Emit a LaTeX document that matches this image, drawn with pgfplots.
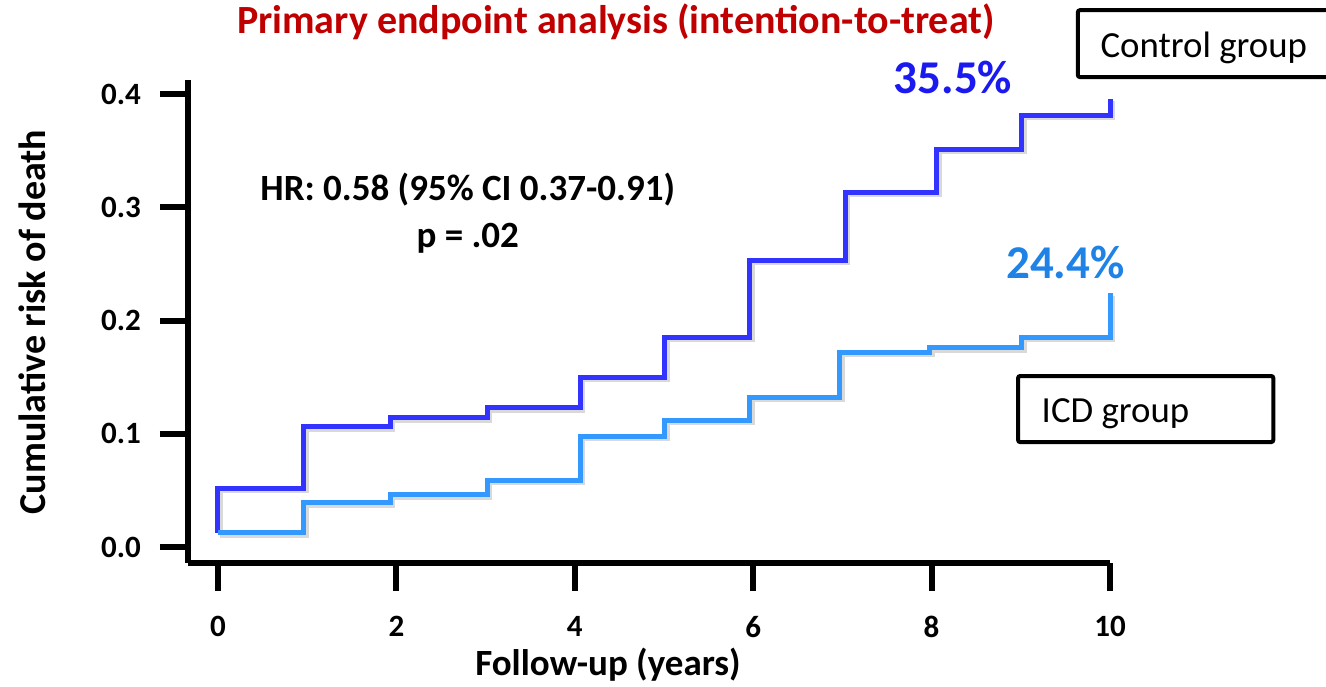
\documentclass[border=0pt]{standalone}
\usepackage{pgfplots}
\pgfplotsset{compat=1.18}
\usepackage{pgfplotstable}
\usepackage{fontspec}
\setmainfont{Carlito}

\definecolor{ctrlblue}{RGB}{51,51,255}
\definecolor{icdblue}{RGB}{51,153,255}
\definecolor{titlered}{RGB}{192,0,0}
\definecolor{pctblue}{RGB}{25,25,240}
\definecolor{pctlight}{RGB}{30,130,230}

% Kaplan-Meier cumulative risk, control arm
\pgfplotstableread{
t risk
0     0.0124
0     0.052
0.964 0.106
1.93  0.114
3.02  0.123
4.06  0.150
5.01  0.185
5.96  0.253
7.03  0.313
8.06  0.351
9.01  0.381
10    0.396
}\controldata

% Kaplan-Meier cumulative risk, ICD arm
\pgfplotstableread{
t risk
0     0.0124
0.964 0.039
1.93  0.046
3.02  0.059
4.06  0.098
5.01  0.112
5.96  0.132
6.97  0.172
7.98  0.176
9.01  0.185
10    0.224
}\icddata

\begin{document}
\begin{tikzpicture}
\begin{axis}[
  scale only axis,
  width=461pt, height=241.5pt,
  xmin=-0.336, xmax=10, ymin=-0.0141, ymax=0.4124,
  axis x line=bottom, axis y line=left,
  axis line style={-, line width=3pt, black},
  xtick={0,2,4,6,8,10},
  ytick={0,0.1,0.2,0.3,0.4},
  tick align=outside,
  major tick length=14pt,
  tick style={line width=3pt, black},
  /pgf/number format/assume math mode=true,
  yticklabel={\pgfmathprintnumber[fixed,fixed zerofill,precision=1]{\tick}},
  xticklabel style={font=\fontsize{15.5}{18}\selectfont\bfseries, yshift=-9pt},
  yticklabel style={font=\fontsize{15.5}{18}\selectfont\bfseries, xshift=-6pt},
  xlabel={Follow-up (years)},
  ylabel={Cumulative risk of death},
  xlabel style={at={(rel axis cs:0.4555,-0.211)}, anchor=center,
    font=\fontsize{18.5}{22}\selectfont\bfseries},
  ylabel style={at={(rel axis cs:-0.169,0.499)}, anchor=center,
    font=\fontsize{19}{22}\selectfont\bfseries},
  clip=false,
]
% soft shadows under the curves
\addplot[const plot, black, opacity=0.15, line width=2.5pt,
  xshift=1.2pt, yshift=-1.2pt, forget plot] table[x=t, y=risk] {\controldata};
\addplot[const plot, black, opacity=0.15, line width=2.5pt,
  xshift=1.2pt, yshift=-1.2pt, forget plot] table[x=t, y=risk] {\icddata};
% curves
\addplot[const plot, ctrlblue, line width=2.5pt] table[x=t, y=risk] {\controldata};
\addplot[const plot, icdblue, line width=2.5pt] table[x=t, y=risk] {\icddata};

% title
\node[font=\fontsize{20}{24}\selectfont\bfseries, text=titlered]
  at (axis cs:4.46,0.4636) {Primary endpoint analysis (intention-to-treat)};
% hazard ratio
\node[align=center, font=\fontsize{18.5}{23.5}\selectfont\bfseries]
  at (axis cs:2.80,0.2945) {HR: 0.58 (95\% CI 0.37-0.91)\\p = .02};
% end-of-follow-up percentages
\node[font=\fontsize{23.5}{28}\selectfont\bfseries, text=pctblue]
  at (axis cs:8.24,0.415) {35.5\%};
\node[font=\fontsize{23.5}{28}\selectfont\bfseries, text=pctlight]
  at (axis cs:9.50,0.251) {24.4\%};
% group labels
\draw[line width=2pt, rounded corners=1pt] (axis cs:9.64,0.415) rectangle (axis cs:12.6,0.474);
\node[anchor=west, font=\fontsize{18.4}{22}\selectfont, inner sep=0pt]
  at (axis cs:9.89,0.441) {Control group};
\draw[line width=2pt, rounded corners=1pt] (axis cs:8.97,0.0927) rectangle (axis cs:11.83,0.151);
\node[anchor=west, font=\fontsize{18.4}{22}\selectfont, inner sep=0pt]
  at (axis cs:9.23,0.118) {ICD group};
\end{axis}
\pgfresetboundingbox
\path (-94pt,-61.5pt) rectangle (569pt,281.5pt);
\end{tikzpicture}
\end{document}
